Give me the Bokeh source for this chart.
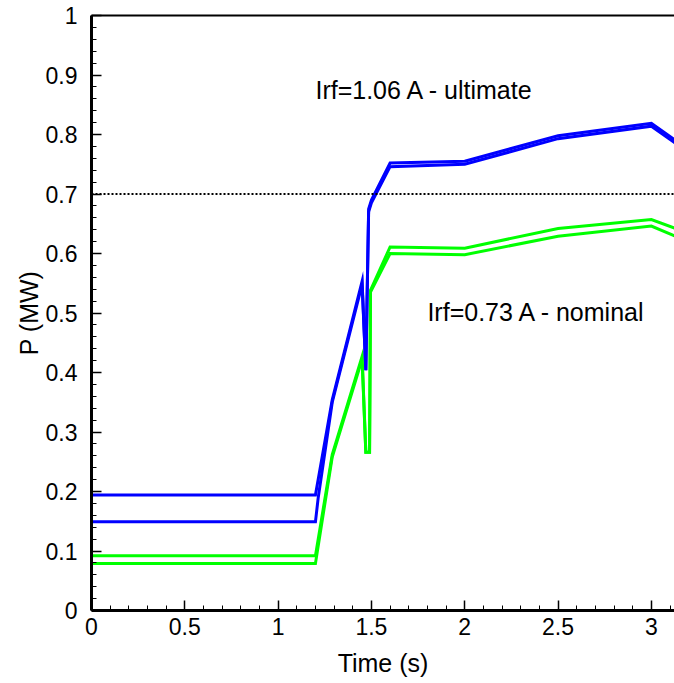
import numpy as np
from bokeh.plotting import figure
from bokeh.models import Range1d, FixedTicker, LinearAxis, Span, Label
from bokeh.embed import file_html
from bokeh.resources import INLINE

# ---- data ----
t_blue_hi = [0, 1.2, 1.29, 1.45, 1.47, 1.485, 1.5, 1.6, 2.0, 2.5, 3.0, 3.13]
p_blue_hi = [0.194, 0.194, 0.354, 0.553, 0.404, 0.675, 0.69, 0.752, 0.755, 0.798, 0.819, 0.790]

t_blue_lo = [0, 1.2, 1.215, 1.29, 1.45, 1.47, 1.485, 1.5, 1.6, 2.0, 2.5, 3.0, 3.13]
p_blue_lo = [0.149, 0.149, 0.19, 0.350, 0.548, 0.404, 0.67, 0.685, 0.746, 0.750, 0.793, 0.814, 0.785]

t_green_hi = [0, 1.2, 1.29, 1.45, 1.47, 1.49, 1.495, 1.6, 2.0, 2.5, 3.0, 3.13]
p_green_hi = [0.092, 0.092, 0.262, 0.427, 0.266, 0.266, 0.538, 0.611, 0.609, 0.642, 0.657, 0.642]

t_green_lo = [0, 1.2, 1.29, 1.45, 1.47, 1.49, 1.495, 1.6, 2.0, 2.5, 3.0, 3.13]
p_green_lo = [0.079, 0.079, 0.258, 0.422, 0.266, 0.266, 0.535, 0.600, 0.598, 0.629, 0.646, 0.629]

threshold = 0.7

x_ticks = [0, 0.5, 1, 1.5, 2, 2.5, 3]
x_tick_labels = ["0", "0.5", "1", "1.5", "2", "2.5", "3"]
y_ticks = [0, 0.1, 0.2, 0.3, 0.4, 0.5, 0.6, 0.7, 0.8, 0.9, 1]
y_tick_labels = ["0", "0.1", "0.2", "0.3", "0.4", "0.5", "0.6", "0.7", "0.8", "0.9", "1"]

label_ultimate = "Irf=1.06 A - ultimate"
label_nominal = "Irf=0.73 A - nominal"

FONT = "Liberation Sans"

p = figure(width=674, height=683, title=None,
           x_range=Range1d(0, 3.124), y_range=Range1d(0, 1),
           output_backend="svg", toolbar_location=None,
           min_border_left=91, min_border_right=0,
           min_border_top=15, min_border_bottom=73,
           x_axis_label="Time (s)", y_axis_label="P (MW)")
p.grid.visible = False
p.outline_line_color = None
p.background_fill_color = "white"
p.border_fill_color = "white"

x_minor = list(np.round(np.arange(0, 3.15, 0.1), 3))
y_minor = list(np.round(np.arange(0, 1.001, 0.02), 3))
p.xaxis.ticker = FixedTicker(ticks=x_ticks, minor_ticks=x_minor)
p.yaxis.ticker = FixedTicker(ticks=y_ticks, minor_ticks=y_minor)
p.xaxis.major_label_overrides = dict(zip(x_ticks, x_tick_labels))
p.yaxis.major_label_overrides = dict(zip(y_ticks, y_tick_labels))

for ax in (p.xaxis, p.yaxis):
    ax.axis_line_width = 3
    ax.axis_line_color = "black"
    ax.major_tick_in = 10
    ax.major_tick_out = 0
    ax.minor_tick_in = 5
    ax.minor_tick_out = 0
    ax.major_tick_line_color = "black"
    ax.minor_tick_line_color = "black"
    ax.major_tick_line_width = 1.5
    ax.minor_tick_line_width = 1
    ax.major_label_text_font = FONT
    ax.major_label_text_font_size = "23px"
    ax.major_label_text_color = "black"
    ax.axis_label_text_font = FONT
    ax.axis_label_text_font_size = "25px"
    ax.axis_label_text_font_style = "normal"
    ax.axis_label_text_color = "black"

p.xaxis.major_label_standoff = 7
p.xaxis.axis_label_standoff = 11
p.yaxis.major_label_standoff = 14
p.yaxis.axis_label_standoff = 0

# top border
top_axis = LinearAxis(ticker=FixedTicker(ticks=[]), axis_line_width=2,
                      axis_line_color="black", major_tick_in=0, major_tick_out=0,
                      minor_tick_in=0, minor_tick_out=0,
                      major_label_text_font_size="0px")
p.add_layout(top_axis, "above")

p.add_layout(Span(location=threshold, dimension="width", line_color="black",
                  line_width=2, line_dash="2 2"))

p.line(t_green_hi, p_green_hi, line_color="#00ff00", line_width=3, line_join="miter")
p.line(t_green_lo, p_green_lo, line_color="#00ff00", line_width=3, line_join="miter")
p.line(t_blue_hi, p_blue_hi, line_color="#0000ff", line_width=3, line_join="miter")
p.line(t_blue_lo, p_blue_lo, line_color="#0000ff", line_width=3, line_join="miter")

p.add_layout(Label(x=1.2, y=0.875, text=label_ultimate, text_font=FONT,
                   text_font_size="25px", text_color="black",
                   text_align="left", text_baseline="alphabetic"))
p.add_layout(Label(x=1.8, y=0.501, text=label_nominal, text_font=FONT,
                   text_font_size="25px", text_color="black",
                   text_align="left", text_baseline="alphabetic"))

open("out.html", "w").write(file_html(p, INLINE))
